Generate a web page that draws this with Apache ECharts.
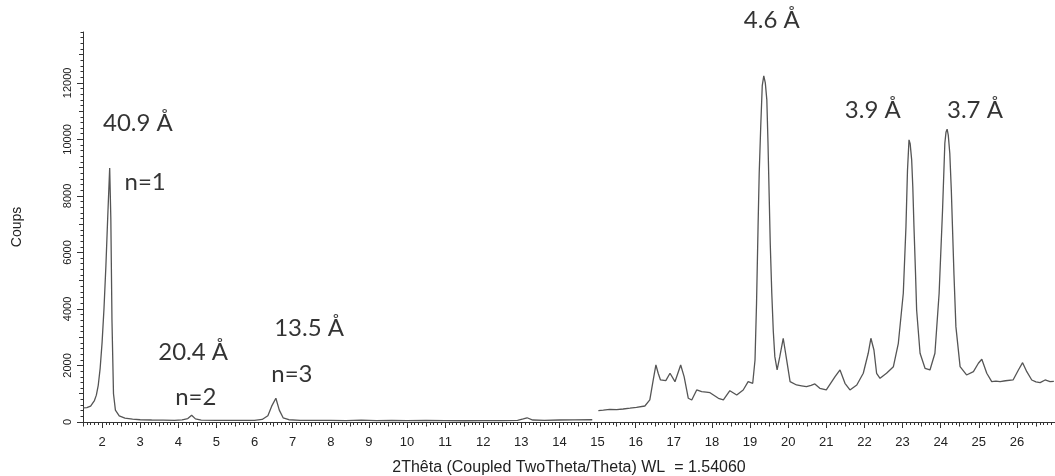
<!DOCTYPE html>
<html>
<head>
<meta charset="utf-8">
<script src="https://cdn.jsdelivr.net/npm/echarts@6/dist/echarts.min.js"></script>
<style>
html,body{margin:0;padding:0;background:#fff;}
#chart{width:1055px;height:476px;}
</style>
</head>
<body>
<div id="chart"></div>
<script>
// ---- data ----
const scanLowX = [1.5,1.6,1.7,1.8,1.85,1.9,1.95,2.0,2.05,2.1,2.15,2.2,2.23,2.26,2.3,2.35,2.45,2.6,2.8,3.0,3.3,3.6,3.9,4.1,4.25,4.35,4.45,4.6,5.0,5.5,6.0,6.2,6.35,6.45,6.56,6.65,6.75,6.9,7.2,7.6,8.0,8.4,8.8,9.2,9.6,10.0,10.5,11.0,11.5,12.0,12.5,12.9,13.05,13.15,13.3,13.6,14.0,14.4,14.86];
const scanLowY = [500,510,560,760,950,1300,1900,2800,4000,5500,7300,8990,7200,3600,1000,420,220,140,100,80,70,65,60,75,120,240,110,65,55,55,60,90,220,560,840,420,150,80,60,55,60,50,65,50,55,50,55,50,45,50,50,60,110,150,70,60,70,75,80];
const scanHighX = [15.02,15.15,15.32,15.5,15.67,15.85,16.02,16.24,16.37,16.46,16.53,16.59,16.65,16.79,16.9,17.03,17.18,17.27,17.38,17.47,17.6,17.73,17.85,17.95,18.17,18.3,18.47,18.65,18.82,18.95,19.07,19.13,19.17,19.21,19.24,19.28,19.32,19.36,19.40,19.44,19.47,19.5,19.53,19.57,19.61,19.65,19.71,19.78,19.87,19.96,20.05,20.22,20.35,20.48,20.6,20.7,20.83,21.0,21.23,21.36,21.49,21.62,21.8,21.97,22.1,22.17,22.25,22.32,22.41,22.58,22.76,22.89,23.02,23.09,23.13,23.17,23.20,23.24,23.27,23.3,23.34,23.37,23.46,23.59,23.72,23.85,23.96,24.05,24.11,24.14,24.17,24.20,24.24,24.28,24.31,24.35,24.4,24.51,24.68,24.86,24.99,25.08,25.21,25.34,25.45,25.56,25.7,25.9,26.04,26.15,26.26,26.39,26.5,26.61,26.74,26.87,26.97];
const scanHighY = [400,420,450,440,460,490,520,566,780,1487,2018,1724,1487,1462,1724,1427,2018,1604,839,779,1133,1073,1060,1037,839,779,1108,956,1133,1427,1370,2195,4200,6913,8800,10453,11900,12248,12000,11398,9900,8096,6300,4556,3200,2312,1841,2312,2963,2195,1427,1310,1280,1250,1300,1345,1193,1133,1604,1841,1370,1133,1310,1724,2432,2963,2549,1724,1547,1724,1958,2786,4556,6913,8900,9982,9850,9274,8300,6913,5300,3965,2432,1900,1841,2432,4556,7504,9865,10250,10360,10150,9510,8200,6913,5200,3374,1958,1664,1781,2078,2220,1724,1427,1450,1427,1460,1487,1841,2100,1781,1487,1420,1392,1487,1427,1440];
const xTickLabels = [2,3,4,5,6,7,8,9,10,11,12,13,14,15,16,17,18,19,20,21,22,23,24,25,26];
const yTickLabels = [0,2000,4000,6000,8000,10000,12000];
const peakLabels = ['40.9 Å','n=1','20.4 Å','n=2','13.5 Å','n=3','4.6 Å','3.9 Å','3.7 Å'];
const peakLabelX = [2.94,3.13,4.39,4.46,7.43,6.98,19.57,22.22,24.9];
const peakLabelY = [10584,8496,2478,885,3327,1699,14230,11044,11044];

// ---- helpers for tick sets ----
function range(a, b, step) {
  const out = [];
  const n = Math.round((b - a) / step);
  for (let i = 0; i <= n; i++) out.push(+(a + i * step).toFixed(4));
  return out;
}
const X_MIN = 1.5, X_MAX = 27, Y_MIN = 0, Y_MAX = 13800;
const xMinor = range(1.5, 27, 0.1);
const xMid = range(1.5, 26.5, 1);
const yMinor = range(0, 13800, 200);
const yMid = range(1000, 13000, 2000);

const chart = echarts.init(document.getElementById('chart'), null, {renderer: 'canvas'});
const lineColor = '#555';
const textColor = '#222';
const fontFam = 'Liberation Sans, Arial, sans-serif';

function hiddenX(vals, len) {
  return {
    type: 'value', min: X_MIN, max: X_MAX, position: 'bottom',
    axisLine: {show: false},
    axisTick: {show: true, customValues: vals, length: len, lineStyle: {color: '#333', width: 1}},
    axisLabel: {show: false},
    splitLine: {show: false}
  };
}
function hiddenY(vals, len) {
  return {
    type: 'value', min: Y_MIN, max: Y_MAX, position: 'left',
    axisLine: {show: false},
    axisTick: {show: true, customValues: vals, length: len, lineStyle: {color: '#333', width: 1}},
    axisLabel: {show: false},
    splitLine: {show: false}
  };
}

chart.setOption({
  animation: false,
  backgroundColor: '#fff',
  grid: {left: 83, right: 0, top: 32, bottom: 54, containLabel: false, outerBoundsMode: 'none'},
  xAxis: [
    {
      type: 'value', min: X_MIN, max: X_MAX, position: 'bottom',
      name: '2Thêta (Coupled TwoTheta/Theta) WL  = 1.54060',
      nameLocation: 'middle', nameGap: 38,
      nameTextStyle: {color: textColor, fontSize: 16, fontFamily: fontFam},
      axisLine: {show: true, lineStyle: {color: '#333', width: 1}},
      axisTick: {show: true, customValues: xTickLabels, length: 6, lineStyle: {color: '#333', width: 1}},
      axisLabel: {show: true, customValues: xTickLabels, margin: 14, color: textColor, fontSize: 13, fontFamily: fontFam},
      splitLine: {show: false}
    },
    hiddenX(xMinor, 3),
    hiddenX(xMid, 4.5)
  ],
  yAxis: [
    {
      type: 'value', min: Y_MIN, max: Y_MAX, position: 'left',
      name: 'Coups', nameLocation: 'middle', nameGap: 59, nameRotate: 90,
      nameTextStyle: {color: textColor, fontSize: 14, fontFamily: fontFam},
      axisLine: {show: true, lineStyle: {color: '#333', width: 1}},
      axisTick: {show: true, customValues: yTickLabels, length: 6, lineStyle: {color: '#333', width: 1}},
      axisLabel: {show: true, customValues: yTickLabels, rotate: 90, margin: 10, color: textColor, fontSize: 11, fontFamily: fontFam,
        formatter: v => String(v)},
      splitLine: {show: false}
    },
    hiddenY(yMinor, 2.5),
    hiddenY(yMid, 4)
  ],
  series: [
    {
      type: 'line', xAxisIndex: 0, yAxisIndex: 0, symbol: 'none',
      lineStyle: {color: lineColor, width: 1.3},
      data: scanLowX.map((x, i) => [x, scanLowY[i]])
    },
    {
      type: 'line', xAxisIndex: 0, yAxisIndex: 0, symbol: 'none',
      lineStyle: {color: lineColor, width: 1.3},
      data: scanHighX.map((x, i) => [x, scanHighY[i]])
    },
    {
      type: 'scatter', xAxisIndex: 0, yAxisIndex: 0, symbolSize: 0, clip: false, silent: true,
      label: {
        show: true, position: 'inside', color: '#000', fontSize: 24,
        fontFamily: 'Lato, Open Sans, sans-serif',
        formatter: p => peakLabels[p.dataIndex]
      },
      data: peakLabelX.map((x, i) => [x, peakLabelY[i]])
    }
  ]
});
</script>
</body>
</html>
